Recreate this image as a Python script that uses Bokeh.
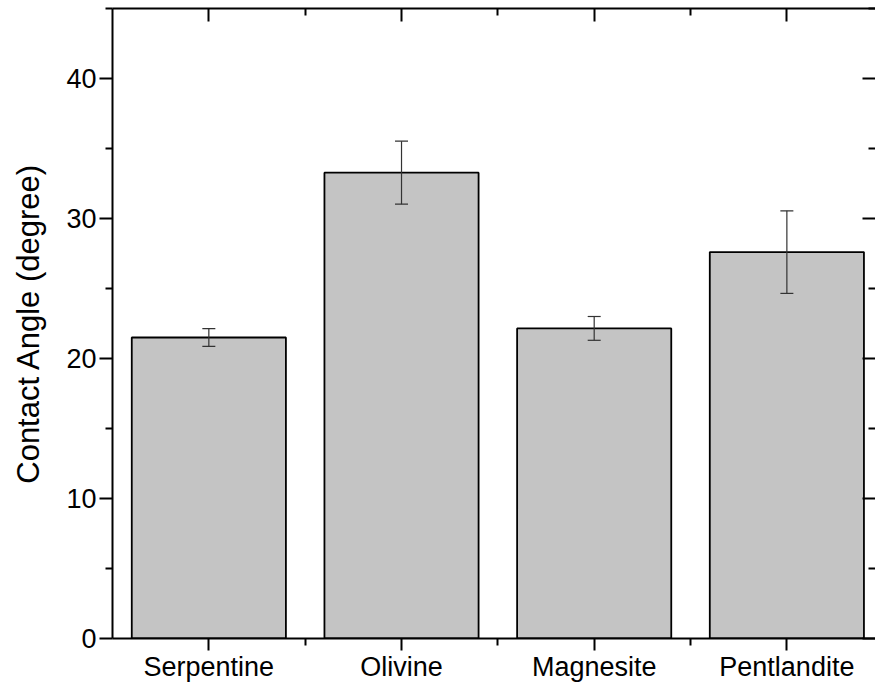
from bokeh.plotting import figure
from bokeh.models import (ColumnDataSource, Range1d, LinearAxis, FixedTicker,
                          Whisker, TeeHead)
from bokeh.embed import file_html
from bokeh.resources import INLINE

# ---- data ----
categories = ["Serpentine", "Olivine", "Magnesite", "Pentlandite"]
angles = [21.5, 33.27, 22.15, 27.6]
errors = [0.63, 2.25, 0.85, 2.95]
y_ticks = [0, 10, 20, 30, 40]
y_minor = [5, 15, 25, 35, 45]

xpos = [i + 1 for i in range(len(categories))]
x_minor = [i + 1.5 for i in range(len(categories))]
upper = [a + e for a, e in zip(angles, errors)]
lower = [a - e for a, e in zip(angles, errors)]

src = ColumnDataSource(dict(x=xpos, top=angles, upper=upper, lower=lower))

FONT = "Liberation Sans"

p = figure(width=875, height=691, output_backend="svg", toolbar_location=None,
           x_range=Range1d(0.5, 4.46), y_range=Range1d(0, 45),
           x_axis_location=None, y_axis_location=None,
           min_border_left=112, min_border_right=0, min_border_top=8,
           min_border_bottom=53)
p.grid.visible = False
p.outline_line_color = None
p.background_fill_color = "white"
p.border_fill_color = "white"

p.vbar(x="x", top="top", width=0.8, bottom=0, source=src,
       fill_color="#c4c4c4", line_color="black", line_width=1.8)

w = Whisker(source=src, base="x", upper="upper", lower="lower",
            line_color="#333333", line_width=1.2, level="annotation",
            upper_head=TeeHead(size=13, line_color="#333333", line_width=1.2),
            lower_head=TeeHead(size=13, line_color="#333333", line_width=1.2))
p.add_layout(w)

xt = FixedTicker(ticks=xpos, minor_ticks=x_minor)
yt = FixedTicker(ticks=y_ticks, minor_ticks=y_minor)

def style(ax):
    ax.axis_line_color = "black"
    ax.axis_line_width = 2
    ax.major_tick_line_color = "black"
    ax.major_tick_line_width = 2
    ax.minor_tick_line_color = "black"
    ax.minor_tick_line_width = 2
    ax.major_label_text_font = FONT
    ax.major_label_text_color = "black"
    ax.axis_label_text_font = FONT
    ax.axis_label_text_font_style = "normal"
    ax.axis_label_text_color = "black"

# bottom
xb = LinearAxis(ticker=xt)
style(xb)
xb.major_label_overrides = {x: c for x, c in zip(xpos, categories)}
xb.major_tick_in = 0
xb.major_tick_out = 12
xb.minor_tick_in = 0
xb.minor_tick_out = 7
xb.major_label_text_font_size = "27px"
xb.major_label_standoff = 1
p.add_layout(xb, "below")

# left
yl = LinearAxis(ticker=yt, axis_label="Contact Angle (degree)")
style(yl)
yl.major_tick_in = 0
yl.major_tick_out = 13
yl.minor_tick_in = 0
yl.minor_tick_out = 7
yl.major_label_text_font_size = "27px"
yl.major_label_standoff = 3
yl.axis_label_text_font_size = "31px"
yl.axis_label_standoff = 17
p.add_layout(yl, "left")

# top (ticks only, no labels)
xtop = LinearAxis(ticker=xt)
style(xtop)
xtop.major_tick_in = 13
xtop.major_tick_out = 0
xtop.minor_tick_in = 7
xtop.minor_tick_out = 0
xtop.major_label_overrides = {x: "" for x in xpos}
xtop.major_label_standoff = 0
xtop.major_label_text_font_size = "1px"
p.add_layout(xtop, "above")

# right (ticks only, no labels)
yr = LinearAxis(ticker=yt)
style(yr)
yr.axis_line_color = None
yr.major_tick_in = 13
yr.major_tick_out = 0
yr.minor_tick_in = 7
yr.minor_tick_out = 0
yr.major_label_overrides = {t: "" for t in y_ticks}
yr.major_label_standoff = 0
yr.major_label_text_font_size = "1px"
p.add_layout(yr, "right")

open("out.html", "w").write(file_html(p, INLINE))
